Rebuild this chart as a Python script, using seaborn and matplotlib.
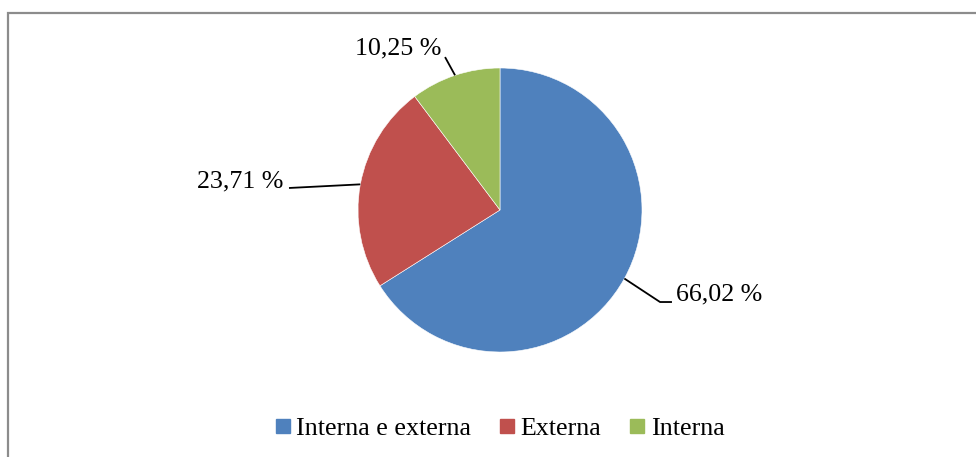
import numpy as np
import matplotlib.pyplot as plt
from matplotlib.lines import Line2D
from matplotlib.patches import Rectangle
import seaborn as sns

sns.set_theme(style='white')
plt.rcParams['font.family'] = ['Liberation Serif', 'DejaVu Serif']
plt.rcParams['text.color'] = 'black'

categories = ['Interna e externa', 'Externa', 'Interna']
values = [66.02, 23.71, 10.25]
labels = ['66,02 %', '23,71 %', '10,25 %']
colors = ['#4F81BD', '#C0504D', '#9BBB59']

# label text spots and leader-line elbows (data units, pie radius = 1)
text_pos = [(1.542, -0.592), (-1.831, 0.204), (-0.718, 1.141)]
elbows = [[(1.127, -0.648), (1.211, -0.648)], [(-1.486, 0.155)], [(-0.387, 1.077)]]

fig = plt.figure(figsize=(9.76, 4.57), dpi=100)
ax = fig.add_axes([0, 0, 1, 1])

wedges, _ = ax.pie(values, colors=colors, startangle=90, counterclock=False,
                   radius=1, wedgeprops=dict(edgecolor='white', linewidth=0.4))

for w, lab, tp, el in zip(wedges, labels, text_pos, elbows):
    mid = np.deg2rad((w.theta1 + w.theta2) / 2)
    pts = [(np.cos(mid), np.sin(mid))] + el
    xs, ys = zip(*pts)
    ax.plot(xs, ys, color='black', lw=1.3, solid_capstyle='butt')
    ax.text(tp[0], tp[1], lab, ha='center', va='center', fontsize=18.7, color='black')

ax.set_xlim(-500 / 142, 476 / 142)
ax.set_ylim(-247 / 142, 210 / 142)
ax.set_aspect('auto')
ax.axis('off')

handles = [Line2D([], [], marker='s', linestyle='', markersize=10.5, color=c) for c in colors]
fig.legend(handles, categories, loc='center', bbox_to_anchor=(500 / 976, 1 - 428 / 457),
           ncol=3, frameon=False, fontsize=18.7, handlelength=0.55, handletextpad=0.25,
           columnspacing=1.1, borderaxespad=0, labelcolor='black')

fig.patches.append(Rectangle((8 / 976, -0.2), 1.2, 1.2 - 13 / 457, transform=fig.transFigure,
                             fill=False, edgecolor='#8c8c8c', linewidth=1.6, clip_on=False))

fig.savefig('out.png', dpi=100)
